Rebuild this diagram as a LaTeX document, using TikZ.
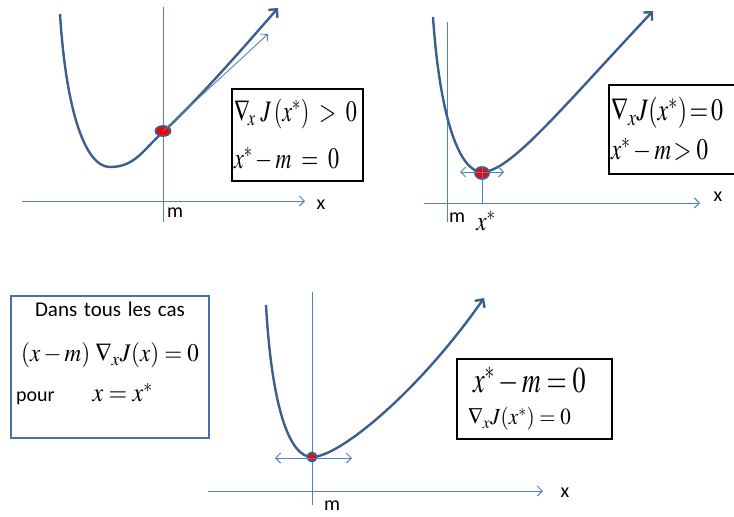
\documentclass[tikz,border=0pt]{standalone}
\usepackage{mathptmx}
\usepackage{graphicx}
\usepackage{fontspec}
\setmainfont{Carlito}
\usetikzlibrary{arrows.meta,shapes.geometric}
\definecolor{axblue}{HTML}{4F81BD}
\definecolor{cvblue}{HTML}{3A5F8F}
\definecolor{boxblue}{HTML}{4A6FA8}
\newcommand{\haut}[2][1.35]{\scalebox{1}[#1]{#2}}

\begin{document}
\begin{tikzpicture}[x=1pt,y=-1pt,>={Straight Barb[length=5pt,width=10pt]},font=\fontsize{20}{24}\selectfont]
\tikzset{
  axe/.style={draw=axblue,line width=0.9pt},
  courbe/.style={draw=cvblue,line width=2.4pt,-{Straight Barb[length=6pt,width=12pt]}},
  boite/.style={draw,line width=2pt,inner sep=2pt,align=left,anchor=north west},
  point/.style={ellipse,draw=cvblue,fill=red,line width=1.8pt,inner sep=0pt},
  etiq/.style={inner sep=0pt}
}
\useasboundingbox (0,0) rectangle (734,517);

% cas 1 : x* = m, gradient positif
\coordinate (a1) at (22,201); \coordinate (a2) at (305,201);
\coordinate (v1) at (163,7); \coordinate (v2) at (163,222);
\draw[axe,->] (a1)--(a2);
\draw[axe] (v1)--(v2);
\draw[courbe] (60,14) .. controls (66,110) and (85,167) .. (110,167)
  .. controls (135,167) and (143,150) .. (163,132)
  .. controls (200,98) and (250,40) .. (278,8);
\node[point,minimum width=15pt,minimum height=10pt] (p1) at (163,131) {};
\coordinate (t1) at (268,34);
\draw[axe,->] (p1.center)--(t1);
\node[etiq] (xa) at (321,205) {x};
\node[etiq] (ma) at (175,213) {m};
\node[boite,minimum width=131pt,minimum height=92pt,text width=127pt,font=\fontsize{22}{26}\selectfont] (cadreA) at (231,88)
  {\haut{$\nabla_{\!x}\;J\,(x^{*})\;>\;0$}\\[18pt]\haut{$x^{*}-m\;=\;0$}};

% cas 2 : x* > m, gradient nul
\coordinate (b1) at (424,203); \coordinate (b2) at (700,203);
\coordinate (w1) at (447,22); \coordinate (w2) at (447,222);
\draw[axe,->] (b1)--(b2);
\draw[axe] (w1)--(w2);
\draw[courbe] (433,17) .. controls (440,120) and (460,172) .. (482,172)
  .. controls (510,172) and (560,110) .. (653,11);
\node[point,minimum width=14pt,minimum height=12pt] (p2) at (482,173) {};
\coordinate (g2) at (460,172); \coordinate (d2) at (504,172);
\draw[axe,<->] (g2)--(d2);
\coordinate (s2) at (482,203);
\draw[axe] (p2.north)--(s2);
\node[etiq] (xb) at (718,197) {x};
\node[etiq] (mb) at (457,218) {m};
\node[etiq,font=\fontsize{23}{26}\selectfont] (eb) at (486,221) {\haut[1.2]{$x^{*}$}};
\node[boite,minimum width=140pt,minimum height=89pt,text width=136pt,font=\fontsize{24}{28}\selectfont] (cadreB) at (608,84)
  {\haut[1.3]{$\nabla_{x}J(x^{*})\!=\!0$}\\[9pt]{\fontsize{23}{26}\selectfont\haut[1.3]{$x^{*}-m\!>0$}}};

% cas 3 : x* = m, gradient nul
\coordinate (c1) at (208,491); \coordinate (c2) at (543,491);
\coordinate (u1) at (312,292); \coordinate (u2) at (312,505);
\draw[axe,->] (c1)--(c2);
\draw[axe] (u1)--(u2);
\draw[courbe] (266,305) .. controls (272,410) and (290,457) .. (312,457)
  .. controls (340,457) and (420,390) .. (484,298);
\node[point,minimum width=9pt,minimum height=9pt] (p3) at (312,457) {};
\coordinate (g3) at (275,458); \coordinate (d3) at (352,458);
\draw[axe,<->] (g3)--(d3);
\node[etiq] (xc) at (565,493) {x};
\node[etiq] (mc) at (332,506) {m};
\node[boite,minimum width=155pt,minimum height=80pt,text width=151pt] (cadreC) at (456,358)
  {\hspace*{14pt}{\fontsize{26}{30}\selectfont\haut[1.4]{$x^{*}-m=0$}}\\[8pt]\hspace*{9pt}{\fontsize{21}{24}\selectfont\haut[1.1]{$\nabla_{x}J(x^{*})=0$}}};

% conclusion
\node[boite,draw=boxblue,align=center,minimum width=198pt,minimum height=142pt,text width=194pt] (bilan) at (10,295)
  {{\fontsize{21}{24}\selectfont Dans tous les cas}\\[21pt]{\fontsize{23}{26}\selectfont\haut[1.1]{$(x-m)\;\nabla_{x}J(x)=0$}}\\[14pt]
   \makebox[188pt][l]{pour\hspace{38pt}{\fontsize{24}{26}\selectfont\haut[1.1]{$x=x^{*}$}}}\\[6pt]\mbox{}};
\end{tikzpicture}
\end{document}
